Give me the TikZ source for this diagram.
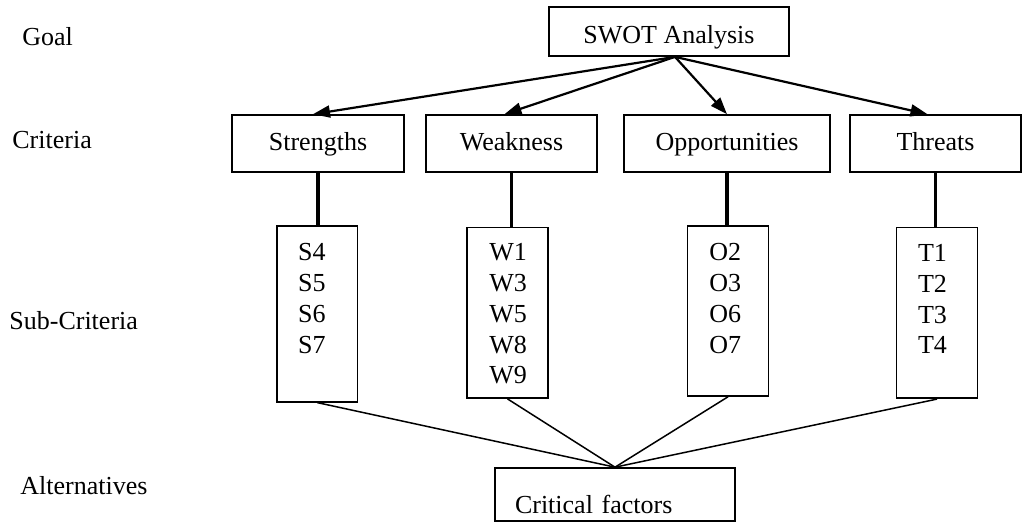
\documentclass[tikz,border=0pt]{standalone}
\usepackage{fontspec}
\setmainfont{Liberation Serif}
\usetikzlibrary{arrows.meta}

\begin{document}
\begin{tikzpicture}[x=0.5pt,y=-0.5pt,
  every node/.style={font=\fontsize{13}{15.35}\selectfont},
  box/.style={draw,line width=0.8pt,inner sep=0,text depth=0pt},
  crbox/.style={box,minimum height=28.5pt,text height=7pt},
  subbox/.style={box,minimum width=40.4pt},
  lbl/.style={anchor=base west,inner sep=0},
  items/.style={align=left,anchor=base west,inner sep=0},
  arr/.style={-{Triangle[length=8.5pt,width=6pt]},line width=1.1pt},
  stem/.style={line width=1.6pt},
  link/.style={line width=0.75pt}]
\useasboundingbox (0,0) rectangle (1023,522);

% level names
\node[lbl] (lgoal) at (22,46) {Goal};
\node[lbl] (lcrit) at (12,149) {Criteria};
\node[lbl] (lsub) at (9,330) {Sub-Criteria};
\node[lbl] (lalt) at (20,495) {Alternatives};

% goal and criteria
\node[box,minimum width=120pt,minimum height=24.4pt,text height=11.6pt] (swot) at (669,31.7) {SWOT Analysis};
\node[crbox,minimum width=86pt] (str) at (318,143.5) {Strengths};
\node[crbox,minimum width=85.5pt] (weak) at (511.5,143.5) {Weakness};
\node[crbox,minimum width=103pt] (opp) at (727,143.5) {Opportunities};
\node[crbox,minimum width=85.5pt] (thr) at (935.5,143.5) {Threats};

% sub-criteria (base = last line)
\node[subbox,minimum height=87.9pt] (sbox) at (317.2,313.9) {};
\node[subbox,minimum height=85.2pt] (wbox) at (507.5,312.9) {};
\node[subbox,minimum height=85pt] (obox) at (728,311) {};
\node[subbox,minimum height=85.3pt] (tbox) at (937,313) {};
\node[items] (slist) at (297.7,353.1) {S4\\S5\\S6\\S7};
\node[items] (wlist) at (489,383.8) {W1\\W3\\W5\\W8\\W9};
\node[items] (olist) at (709,353.1) {O2\\O3\\O6\\O7};
\node[items] (tlist) at (917.7,353.8) {T1\\T2\\T3\\T4};

% alternative
\node[box,minimum width=120pt,minimum height=26.5pt,inner xsep=10pt,text width=100pt,align=left,text height=18.8pt] (fact) at (615,494.5) {Critical factors};

\draw[arr] ([xshift=3pt]swot.south) -- ([xshift=-2.5pt]str.north);
\draw[arr] ([xshift=3pt]swot.south) -- ([xshift=-3.5pt]weak.north);
\draw[arr] ([xshift=3pt]swot.south) -- (opp.north);
\draw[arr] ([xshift=3pt]swot.south) -- ([xshift=-4pt]thr.north);

\draw[stem] (str.south) -- (str.south |- sbox.north);
\draw[stem] (weak.south) -- (weak.south |- wbox.north);
\draw[stem] (opp.south) -- (opp.south |- obox.north);
\draw[stem] (thr.south) -- (thr.south |- tbox.north);

\draw[link] (sbox.south) -- (fact.north);
\draw[link] (wbox.south) -- (fact.north);
\draw[link] (obox.south) -- (fact.north);
\draw[link] (tbox.south) -- (fact.north);
\end{tikzpicture}
\end{document}
